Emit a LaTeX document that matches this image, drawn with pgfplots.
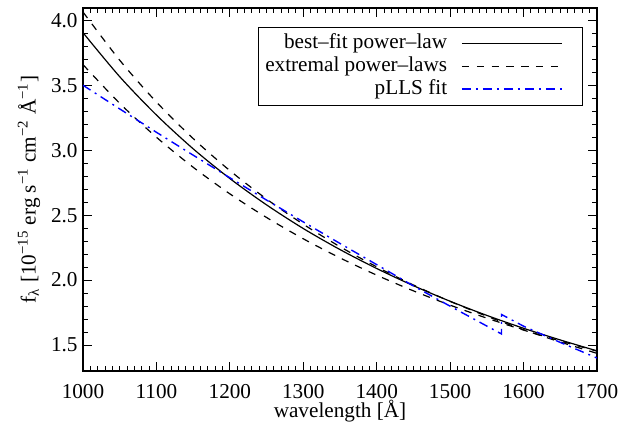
\documentclass[border=0pt]{standalone}
\usepackage{fontspec}
\setmainfont{Liberation Serif}
\usepackage{pgfplots}
\pgfplotsset{compat=1.18}
\definecolor{fitblue}{RGB}{0,0,255}

\begin{document}
\fontsize{10.6bp}{12.7bp}\selectfont
\begin{tikzpicture}
\begin{axis}[
  scale only axis,
  width=257bp, height=181.5bp,
  xmin=1000, xmax=1700,
  ymin=1.3, ymax=4.095,
  xtick={1000,1100,...,1700},
  ytick={1.5,2.0,2.5,3.0,3.5,4.0},
  minor x tick num=9,
  minor y tick num=4,
  tick align=inside,
  major tick length=4.5bp,
  minor tick length=2.5bp,
  axis line style={line width=0.6bp},
  every tick/.style={black, line width=0.5bp},
  /pgf/number format/assume math mode=true,
  xticklabel={\textrm{\pgfmathprintnumber[assume math mode=true,set thousands separator={}]{\tick}}},
  yticklabel={\textrm{\pgfmathprintnumber[assume math mode=true,fixed,fixed zerofill,precision=1]{\tick}}},
  xticklabel style={yshift=-3bp},
  yticklabel style={xshift=1bp},
  xlabel={wavelength [Å]},
  ylabel={f\textsubscript{λ} [10\textsuperscript{−15} erg s\textsuperscript{−1} cm\textsuperscript{−2} Å\textsuperscript{−1}]},
  xlabel style={at={(axis description cs:0.5,-0.128)}, anchor=base},
  ylabel style={at={(axis description cs:-0.105,0.5)}, anchor=center},
  legend style={at={(0.9733,0.9485)}, anchor=north east, line width=0.6bp,
                inner xsep=3.5bp, inner ysep=2.5bp, row sep=0pt, column sep=7bp,
                nodes={inner sep=0pt, text height=8.3bp, text depth=3.1bp}},
  legend cell align=right,
  legend plot pos=right,
  legend image code/.code={\draw[#1] (0bp,0bp) -- (50bp,0bp); \path (56.5bp,0bp);},
]
% best-fit power-law
\addplot[black, line width=0.6bp, smooth] coordinates {
  (1000,3.905) (1050,3.566) (1100,3.271) (1150,3.011) (1200,2.782)
  (1250,2.579) (1300,2.397) (1350,2.235) (1400,2.089) (1450,1.957)
  (1500,1.837) (1550,1.728) (1600,1.629) (1650,1.539) (1700,1.455)
};
\addlegendentry{best--fit power--law}
% extremal power-laws
\addplot[black, line width=0.6bp, smooth, dash pattern=on 3.7bp off 3.7bp] coordinates {
  (1000,4.064) (1050,3.693) (1100,3.371) (1150,3.090) (1200,2.843)
  (1250,2.624) (1300,2.430) (1350,2.257) (1400,2.102) (1450,1.962)
  (1500,1.836) (1550,1.722) (1600,1.618) (1650,1.523) (1700,1.436)
};
\addlegendentry{extremal power--laws}
\addplot[black, line width=0.6bp, smooth, dash pattern=on 3.7bp off 3.7bp, forget plot] coordinates {
  (1000,3.659) (1050,3.361) (1100,3.100) (1150,2.869) (1200,2.664)
  (1250,2.482) (1300,2.318) (1350,2.171) (1400,2.038) (1450,1.917)
  (1500,1.807) (1550,1.707) (1600,1.615) (1650,1.531) (1700,1.453)
};
% pLLS fit
\addplot[fitblue, line width=0.7bp, dash pattern=on 4.5bp off 2.5bp on 1bp off 2.5bp,
  legend image code/.code={\draw[fitblue, line width=0.8bp, dash pattern=on 4.5bp off 2.5bp on 1bp off 2.5bp] (0bp,0bp) -- (50bp,0bp); \path (56.5bp,0bp);}] coordinates {
  (1000,3.500) (1050,3.318) (1100,3.138) (1150,2.962) (1200,2.788)
  (1250,2.616) (1300,2.448) (1350,2.282) (1400,2.119) (1450,1.955)
  (1500,1.799) (1550,1.646) (1570,1.585) (1570,1.735) (1600,1.645)
  (1650,1.520) (1700,1.400)
};
\addlegendentry{pLLS fit}
\end{axis}
\pgfresetboundingbox
\path ([shift={(-41.5bp,-28bp)}]current axis.south west) rectangle ([shift={(18bp,4bp)}]current axis.north east);
\end{tikzpicture}
\end{document}
